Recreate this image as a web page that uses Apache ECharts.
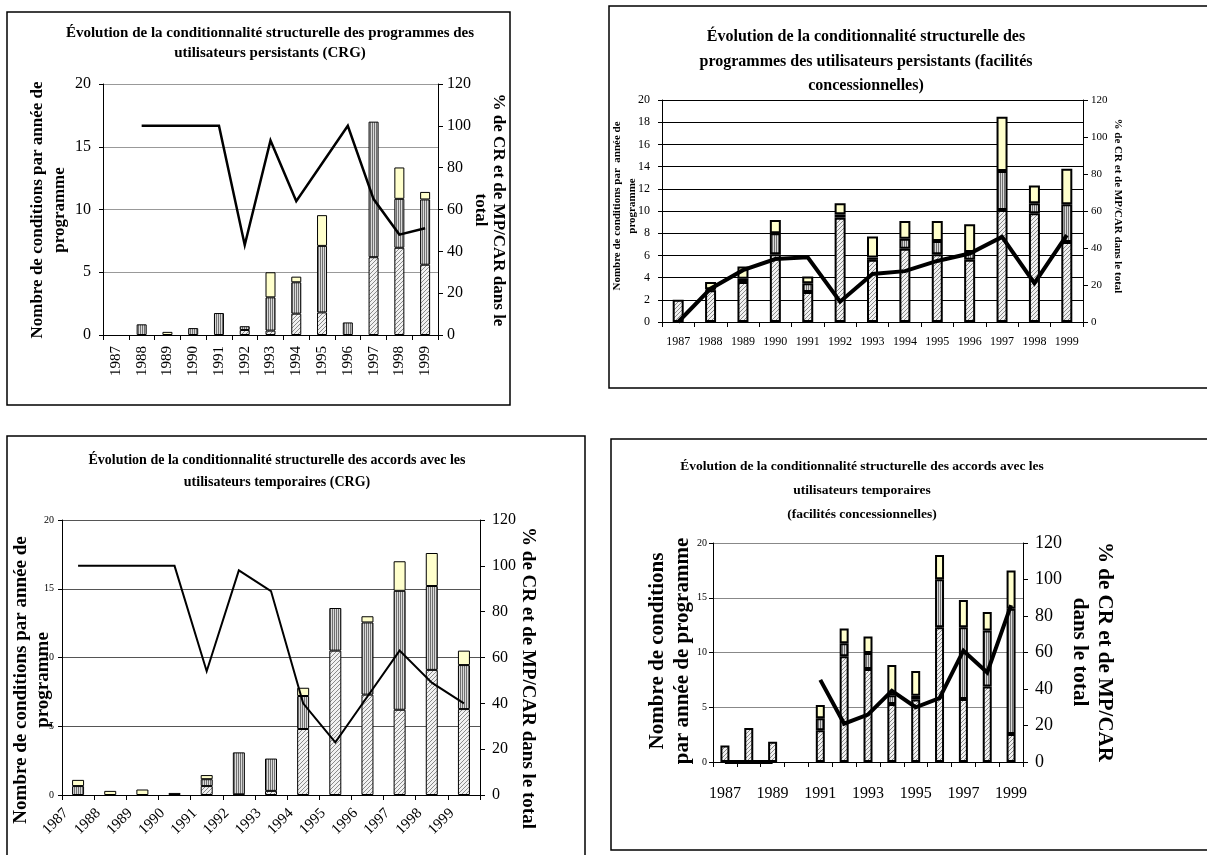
<!DOCTYPE html>
<html>
<head>
<meta charset="utf-8">
<script src="https://cdn.jsdelivr.net/npm/echarts@6/dist/echarts.min.js"></script>
<style>
  html, body { margin: 0; padding: 0; background: #fff; }
  #chart { width: 1207px; height: 855px; }
</style>
</head>
<body>
<div id="chart"></div>
<script>
// Program years shared by the four panels
const years = ['1987', '1988', '1989', '1990', '1991', '1992', '1993', '1994', '1995', '1996', '1997', '1998', '1999'];

// Persistent users, CRG: conditions per program year (CR, MP/CAR, other) and share of CR + MP/CAR (%)
const persCrgCr     = [0, 0, 0, 0, 0, 0.4, 0.35, 1.7, 1.8, 0, 6.2, 6.95, 5.6];
const persCrgMp     = [0, 0.85, 0, 0.55, 1.75, 0.3, 2.65, 2.5, 5.3, 1.0, 10.8, 3.9, 5.2];
const persCrgOther  = [0, 0, 0.25, 0, 0, 0, 2.0, 0.45, 2.45, 0, 0, 2.5, 0.6];
const persCrgShare  = [null, 100, 100, 100, 100, 43, 93, 64, 82, 100, 65, 48, 51];

// Persistent users, concessional facilities
const persConcCr    = [2.0, 2.85, 3.6, 6.1, 2.7, 9.4, 5.6, 6.6, 6.1, 5.6, 10.1, 9.8, 7.2];
const persConcMp    = [0, 0.1, 0.3, 1.9, 0.8, 0.3, 0.2, 0.9, 1.2, 0.7, 3.5, 0.9, 3.4];
const persConcOther = [0, 0.65, 1.1, 1.2, 0.6, 1.0, 1.9, 1.6, 1.8, 2.5, 4.9, 1.6, 3.2];
const persConcShare = [0, 18, 28, 34, 35, 11, 26, 27.5, 33, 37, 46, 21, 47];

// Temporary users, CRG
const tempCrgCr     = [0, 0, 0, 0, 0.65, 0.05, 0.3, 4.8, 10.5, 7.3, 6.2, 9.1, 6.25];
const tempCrgMp     = [0.65, 0, 0, 0, 0.5, 3.05, 2.35, 2.4, 3.1, 5.25, 8.65, 6.1, 3.2];
const tempCrgOther  = [0.45, 0.3, 0.4, 0.15, 0.3, 0, 0, 0.6, 0, 0.45, 2.15, 2.4, 1.05];
const tempCrgShare  = [100, 100, 100, 100, 54, 98, 89, 40, 23, 43, 63, 49, 40];

// Temporary users, concessional facilities
const tempConcCr    = [1.5, 3.1, 1.85, 0, 2.9, 9.65, 8.5, 5.3, 5.7, 12.3, 5.75, 6.9, 2.55];
const tempConcMp    = [0, 0, 0, 0, 1.1, 1.2, 1.45, 0.8, 0.35, 4.4, 6.55, 5.1, 11.45];
const tempConcOther = [0, 0, 0, 0, 1.2, 1.35, 1.5, 2.75, 2.25, 2.2, 2.5, 1.7, 3.5];
const tempConcShare = [0, 0, 0, null, 45, 21, 26, 39, 30, 35, 61, 49, 86];

const SERIF = '"Liberation Serif", "Times New Roman", serif';

// Fill patterns: diagonal hatching and fine vertical stripes
function hatchCanvas() {
  const c = document.createElement('canvas');
  c.width = 4; c.height = 4;
  const g = c.getContext('2d');
  g.fillStyle = '#f1f1f1';
  g.fillRect(0, 0, 4, 4);
  g.strokeStyle = '#8a8a8a';
  g.lineWidth = 1;
  g.beginPath();
  g.moveTo(0, 4); g.lineTo(4, 0);
  g.moveTo(-1, 1); g.lineTo(1, -1);
  g.moveTo(3, 5); g.lineTo(5, 3);
  g.stroke();
  return c;
}
function stripeCanvas() {
  const c = document.createElement('canvas');
  c.width = 2; c.height = 2;
  const g = c.getContext('2d');
  g.fillStyle = '#d9d9d9';
  g.fillRect(0, 0, 2, 2);
  g.fillStyle = '#707070';
  g.fillRect(0, 0, 1, 2);
  return c;
}
const hatchFill = { image: hatchCanvas(), repeat: 'repeat' };
const stripeFill = { image: stripeCanvas(), repeat: 'repeat' };
const lightFill = '#ffffcc';

const panels = [
  {
    title: 'Évolution de la conditionnalité structurelle des programmes des\nutilisateurs persistants (CRG)',
    titleX: 270, titleY: 23, titleSize: 15, titleLH: 20,
    frame: { x: 7, y: 12, width: 503, height: 393 },
    grid: { left: 103, top: 84, width: 335, height: 251 },
    cr: persCrgCr, mp: persCrgMp, other: persCrgOther, share: persCrgShare,
    barWidth: 10, border: 1, lineWidth: 2.5, gridColor: '#999999',
    leftInterval: 5, leftFont: 16, leftMargin: 12, rightFont: 16, rightMargin: 9,
    xRotate: 90, xFont: 15, xMargin: 11, xInterval: 0, xPadding: 0,
    leftName: 'Nombre de conditions par année de\nprogramme', leftNameX: 49, leftNameY: 210, leftNameFont: 17, leftNameLH: 22,
    rightName: '% de CR et de MP/CAR dans le\ntotal', rightNameX: 489, rightNameY: 210, rightNameFont: 17, rightNameLH: 18
  },
  {
    title: 'Évolution de la conditionnalité structurelle des\nprogrammes des utilisateurs persistants (facilités\nconcessionnelles)',
    titleX: 866, titleY: 25, titleSize: 16, titleLH: 24.5,
    frame: { x: 609, y: 6, width: 700, height: 382 },
    grid: { left: 662, top: 100, width: 421, height: 222 },
    cr: persConcCr, mp: persConcMp, other: persConcOther, share: persConcShare,
    barWidth: 11, border: 2, lineWidth: 4, gridColor: '#000000',
    leftInterval: 2, leftFont: 12, leftMargin: 12, rightFont: 11, rightMargin: 8,
    xRotate: 0, xFont: 12, xMargin: 14, xInterval: 0, xPadding: 0,
    leftName: 'Nombre de conditions par  année de\nprogramme', leftNameX: 625, leftNameY: 206, leftNameFont: 11, leftNameLH: 15,
    rightName: '% de CR et de MP/CAR dans le total', rightNameX: 1118, rightNameY: 206, rightNameFont: 11, rightNameLH: 15
  },
  {
    title: 'Évolution de la conditionnalité structurelle des accords avec les\nutilisateurs temporaires (CRG)',
    titleX: 277, titleY: 449, titleSize: 14, titleLH: 22,
    frame: { x: 7, y: 436, width: 578, height: 500 },
    grid: { left: 62, top: 520, width: 418, height: 275 },
    cr: tempCrgCr, mp: tempCrgMp, other: tempCrgOther, share: tempCrgShare,
    barWidth: 12, border: 1, lineWidth: 2, gridColor: '#555555',
    leftInterval: 5, leftFont: 10, leftMargin: 8, rightFont: 16, rightMargin: 12,
    xRotate: 45, xFont: 15, xMargin: 4, xInterval: 0, xPadding: [0, 17, 0, 0],
    leftName: 'Nombre de conditions par année de\nprogramme', leftNameX: 32, leftNameY: 680, leftNameFont: 19, leftNameLH: 21.5,
    rightName: '% de CR et de MP/CAR dans le total', rightNameX: 528, rightNameY: 678, rightNameFont: 19, rightNameLH: 22
  },
  {
    title: 'Évolution de la conditionnalité structurelle des accords avec les\nutilisateurs temporaires\n(facilités concessionnelles)',
    titleX: 862, titleY: 455, titleSize: 13.5, titleLH: 24,
    frame: { x: 611, y: 439, width: 700, height: 411 },
    grid: { left: 713, top: 543, width: 310, height: 219 },
    cr: tempConcCr, mp: tempConcMp, other: tempConcOther, share: tempConcShare,
    barWidth: 9, border: 2, lineWidth: 4, gridColor: '#888888',
    leftInterval: 5, leftFont: 10, leftMargin: 6, rightFont: 18, rightMargin: 12,
    xRotate: 0, xFont: 16, xMargin: 24, xInterval: 1, xPadding: 0,
    leftName: 'Nombre de conditions\npar année de programme', leftNameX: 670, leftNameY: 651, leftNameFont: 21, leftNameLH: 25,
    rightName: '% de CR et de MP/CAR\ndans le total', rightNameX: 1092, rightNameY: 652, rightNameFont: 21, rightNameLH: 25
  }
];

const grids = [], xAxes = [], yAxes = [], series = [], titles = [], graphics = [];

panels.forEach((p, i) => {
  grids.push(Object.assign({ containLabel: false, outerBoundsMode: 'none' }, p.grid));

  titles.push({
    text: p.title, left: p.titleX, top: p.titleY, padding: 0,
    textAlign: 'center', textVerticalAlign: 'top',
    textStyle: { fontFamily: SERIF, fontWeight: 'bold', fontSize: p.titleSize, lineHeight: p.titleLH, color: '#000' }
  });

  xAxes.push({
    gridIndex: i, type: 'category', data: years, boundaryGap: true,
    axisLine: { show: true, onZero: false, lineStyle: { color: '#000', width: 1 } },
    axisTick: { show: true, interval: 0, alignWithLabel: false, length: 5, lineStyle: { color: '#000' } },
    axisLabel: {
      interval: p.xInterval, rotate: p.xRotate, margin: p.xMargin, padding: p.xPadding,
      fontFamily: SERIF, fontSize: p.xFont, color: '#000', hideOverlap: false
    },
    splitLine: { show: false }
  });

  yAxes.push({
    gridIndex: i, type: 'value', position: 'left', min: 0, max: 20, interval: p.leftInterval,
    axisLine: { show: true, lineStyle: { color: '#000', width: 1 } },
    axisTick: { show: true, length: 4, lineStyle: { color: '#000' } },
    axisLabel: { fontFamily: SERIF, fontSize: p.leftFont, color: '#000', margin: p.leftMargin },
    splitLine: { show: true, lineStyle: { color: p.gridColor, width: 1 } }
  });
  yAxes.push({
    gridIndex: i, type: 'value', position: 'right', min: 0, max: 120, interval: 20,
    axisLine: { show: true, lineStyle: { color: '#000', width: 1 } },
    axisTick: { show: true, length: 5, lineStyle: { color: '#000' } },
    axisLabel: { fontFamily: SERIF, fontSize: p.rightFont, color: '#000', margin: p.rightMargin },
    splitLine: { show: false }
  });

  const stackParts = [
    ['CR', p.cr, hatchFill],
    ['MP/CAR', p.mp, stripeFill],
    ['Autres conditions', p.other, lightFill]
  ];
  stackParts.forEach(([name, values, fill]) => {
    series.push({
      type: 'bar', name, xAxisIndex: i, yAxisIndex: i * 2, stack: 'panel' + i,
      barWidth: p.barWidth,
      data: values.map(v => (v > 0 ? v : null)),
      itemStyle: { color: fill, borderColor: '#000', borderWidth: p.border },
      emphasis: { disabled: true }, silent: true, z: 2
    });
  });

  series.push({
    type: 'line', name: '% de CR et de MP/CAR', xAxisIndex: i, yAxisIndex: i * 2 + 1,
    data: p.share, symbol: 'none', connectNulls: false,
    lineStyle: { color: '#000', width: p.lineWidth, join: 'miter' },
    itemStyle: { color: '#000' }, emphasis: { disabled: true }, silent: true, z: 5
  });

  graphics.push({
    type: 'rect', shape: p.frame, silent: true, z: 0,
    style: { fill: 'none', stroke: '#000', lineWidth: 1.5 }
  });
  graphics.push({
    type: 'text', x: p.leftNameX, y: p.leftNameY, rotation: Math.PI / 2, silent: true,
    style: {
      text: p.leftName, font: 'bold ' + p.leftNameFont + 'px ' + SERIF, fill: '#000',
      lineHeight: p.leftNameLH, align: 'center', verticalAlign: 'middle',
      textAlign: 'center', textVerticalAlign: 'middle'
    }
  });
  graphics.push({
    type: 'text', x: p.rightNameX, y: p.rightNameY, rotation: -Math.PI / 2, silent: true,
    style: {
      text: p.rightName, font: 'bold ' + p.rightNameFont + 'px ' + SERIF, fill: '#000',
      lineHeight: p.rightNameLH, align: 'center', verticalAlign: 'middle',
      textAlign: 'center', textVerticalAlign: 'middle'
    }
  });
});

const chart = echarts.init(document.getElementById('chart'), null, { renderer: 'canvas' });
chart.setOption({
  animation: false,
  backgroundColor: '#ffffff',
  title: titles,
  grid: grids,
  xAxis: xAxes,
  yAxis: yAxes,
  series: series,
  graphic: { elements: graphics },
  tooltip: { show: false },
  legend: { show: false }
});
</script>
</body>
</html>
